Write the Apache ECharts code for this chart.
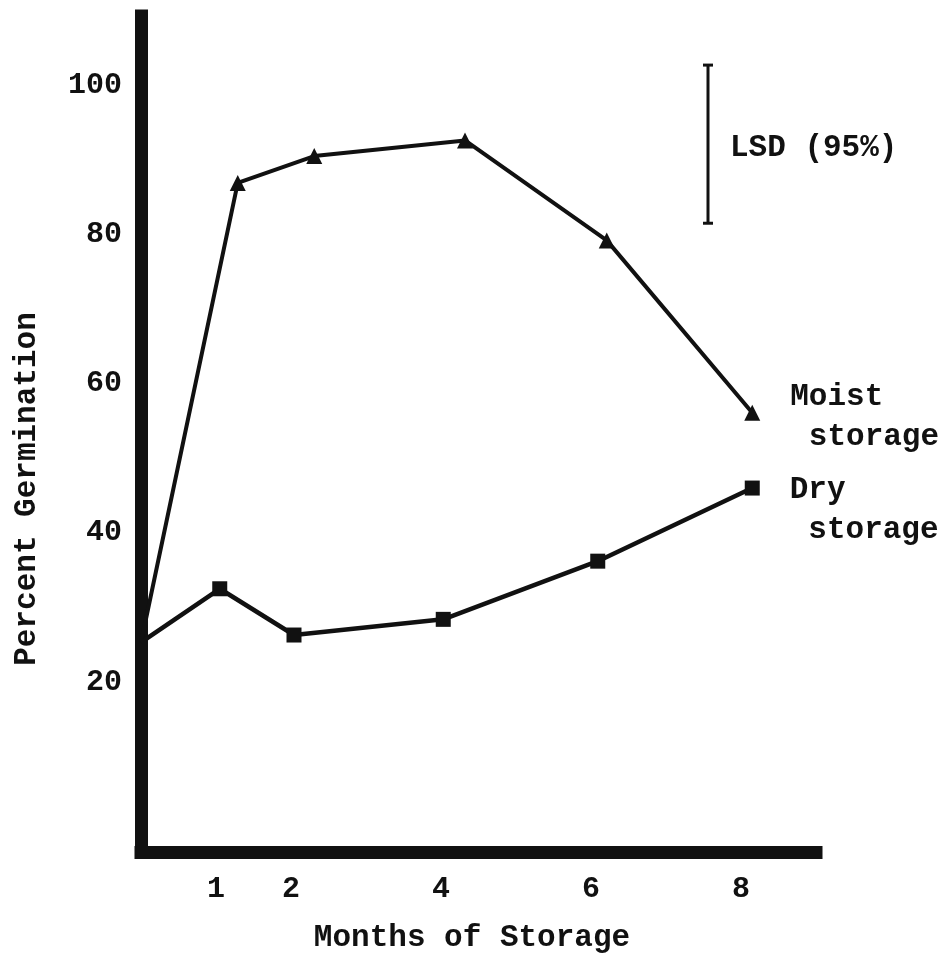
<!DOCTYPE html>
<html>
<head>
<meta charset="utf-8">
<script src="https://cdn.jsdelivr.net/npm/echarts@6/dist/echarts.min.js"></script>
<style>
html,body{margin:0;padding:0;background:#fff;}
#c{width:943px;height:963px;}
</style>
</head>
<body>
<div id="c"></div>
<script>
// ---- data ----
const moistMonths = [0, 1.29, 2.31, 4.32, 6.21, 8.15];
const moistValues = [25.3, 86.9, 90.5, 92.6, 79.2, 56.1];
const dryMonths = [0, 1.05, 2.04, 4.03, 6.09, 8.15];
const dryValues = [25.3, 32.5, 26.3, 28.4, 36.2, 46.0];
const xTickLabels = [1, 2, 4, 6, 8];
const yTickLabels = [20, 40, 60, 80, 100];
const lsdBar = [7.56, 81.5, 102.7]; // [month position, low, high]
const seriesNames = ['Moist\n storage', 'Dry\n storage'];
const xTitle = 'Months of Storage';
const yTitle = 'Percent Germination';
const lsdText = 'LSD (95%)';

const FONT = "'Liberation Mono', 'DejaVu Sans Mono', monospace";
const INK = '#111';

function buildData(xs, ys, labelOffset) {
  return xs.map((x, i) => {
    const item = { value: [x, ys[i]] };
    if (i === 0) item.symbol = 'none';
    if (i === xs.length - 1) {
      item.label = {
        show: true, position: 'right', distance: 30,
        offset: labelOffset,
        formatter: '{a}'
      };
    }
    return item;
  });
}

const chart = echarts.init(document.getElementById('c'), null, { renderer: 'canvas' });

const labelStyle = {
  color: INK, fontFamily: FONT, fontSize: 31, fontWeight: 'bold',
  lineHeight: 40, align: 'left'
};

chart.setOption({
  backgroundColor: '#fff',
  animation: false,
  grid: { left: 141, top: 16, width: 675, height: 836.1 },
  xAxis: {
    type: 'value', min: 0, max: 9,
    axisLine: { show: true, onZero: false, lineStyle: { color: INK, width: 13, cap: 'square' } },
    axisTick: { show: false },
    splitLine: { show: false },
    axisLabel: {
      customValues: xTickLabels, margin: 22,
      color: INK, fontFamily: FONT, fontSize: 30, fontWeight: 'bold'
    }
  },
  yAxis: {
    type: 'value', min: -2.8, max: 109.28,
    axisLine: { show: true, onZero: false, lineStyle: { color: INK, width: 13, cap: 'square' } },
    axisTick: { show: false },
    splitLine: { show: false },
    axisLabel: {
      customValues: yTickLabels, margin: 19,
      color: INK, fontFamily: FONT, fontSize: 30, fontWeight: 'bold'
    }
  },
  graphic: [
    {
      type: 'text',
      x: 27, y: 489, rotation: Math.PI / 2,
      style: {
        text: yTitle, fill: INK, font: 'bold 31px ' + FONT,
        align: 'center', verticalAlign: 'middle'
      }
    },
    {
      type: 'text',
      x: 472, y: 938,
      style: {
        text: xTitle, fill: INK, font: 'bold 31px ' + FONT,
        align: 'center', verticalAlign: 'middle'
      }
    }
  ],
  series: [
    {
      name: seriesNames[0], type: 'line', clip: false,
      data: buildData(moistMonths, moistValues, [0, 4]),
      symbol: 'triangle', symbolSize: 16,
      itemStyle: { color: INK },
      lineStyle: { color: INK, width: 4 },
      label: labelStyle,
      z: 3
    },
    {
      name: seriesNames[1], type: 'line', clip: false,
      data: buildData(dryMonths, dryValues, [0, 22]),
      symbol: 'rect', symbolSize: 15,
      itemStyle: { color: INK },
      lineStyle: { color: INK, width: 4.5 },
      label: labelStyle,
      z: 3
    },
    {
      type: 'custom', name: 'LSD',
      data: [lsdBar],
      renderItem: function (params, api) {
        const x = api.value(0);
        const top = api.coord([x, api.value(2)]);
        const bot = api.coord([x, api.value(1)]);
        const half = 5;
        const st = { stroke: INK, lineWidth: 3 };
        return {
          type: 'group',
          children: [
            { type: 'line', shape: { x1: top[0], y1: top[1], x2: bot[0], y2: bot[1] }, style: st },
            { type: 'line', shape: { x1: top[0] - half, y1: top[1], x2: top[0] + half, y2: top[1] }, style: st },
            { type: 'line', shape: { x1: bot[0] - half, y1: bot[1], x2: bot[0] + half, y2: bot[1] }, style: st },
            {
              type: 'text', x: top[0] + 22, y: (top[1] + bot[1]) / 2 + 4,
              style: {
                text: lsdText, fill: INK, font: 'bold 31px ' + FONT,
                align: 'left', verticalAlign: 'middle'
              }
            }
          ]
        };
      },
      z: 3
    }
  ]
});
</script>
</body>
</html>
